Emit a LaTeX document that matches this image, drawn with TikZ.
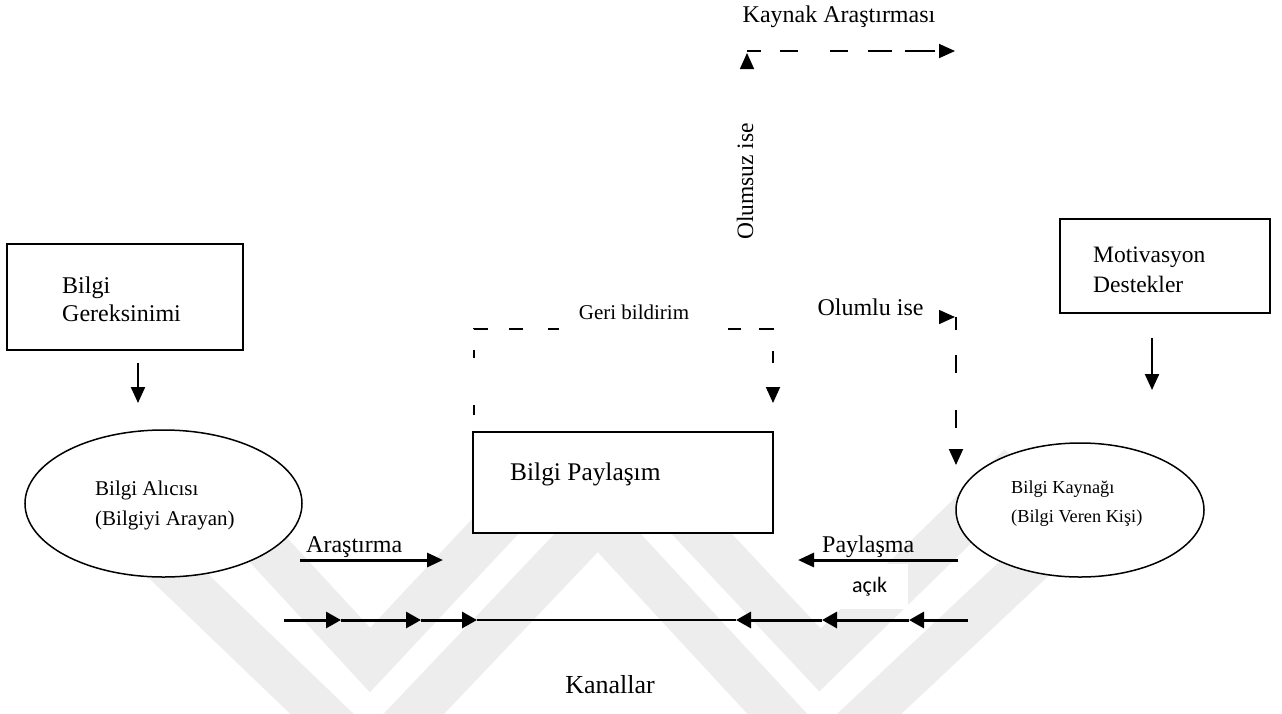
\documentclass[tikz,border=0pt]{standalone}
\usepackage{fontspec}
\setmainfont{Liberation Serif}
\newfontfamily\calfont{Carlito}
\usetikzlibrary{arrows.meta,shapes.geometric}
\definecolor{mark}{RGB}{237,237,237}
\begin{document}
\begin{tikzpicture}[x=1pt,y=-1pt,
  box/.style={draw, fill=white, line width=2pt, inner sep=0pt},
  oval/.style={draw, fill=white, ellipse, line width=1.5pt, inner sep=0pt},
  lbl/.style={inner sep=0pt, align=left},
  head/.style={-{Triangle[length=16pt,width=14pt]}},
  chanhead/.style={-{Triangle[length=15pt,width=16pt]}},
  arr/.style={head, line width=2.2pt},
  flow/.style={head, line width=3pt},
  chan/.style={chanhead, line width=3pt},
  dline/.style={line width=1.8pt},
  band/.style={draw=mark, line width=44pt, line join=miter, line cap=butt}
]
\useasboundingbox (0,0) rectangle (1282,713);

% background emblem stripes
\coordinate (w1) at (120,520);  \coordinate (w2) at (370,760);
\coordinate (w3) at (598,520);  \coordinate (w4) at (820,760);
\coordinate (w5) at (1060,535);
\coordinate (v1) at (250,530);  \coordinate (v2) at (370,660);
\coordinate (v3) at (520,500);  \coordinate (v4) at (670,500);
\coordinate (v5) at (820,660);  \coordinate (v6) at (1020,465);
\draw[band] (w1) -- (w2) -- (w3) -- (w4) -- (w5);
\draw[band] (v1) -- (v2) -- (v3);
\draw[band] (v4) -- (v5) -- (v6);

% boxes
\node[box, minimum width=236pt, minimum height=106pt] (need) at (125,297) {};
\node[lbl, anchor=base west, font=\fontsize{24}{28}\selectfont] (needtxt) at (62,321) {Bilgi\\Gereksinimi};

\node[box, minimum width=210pt, minimum height=94pt] (motiv) at (1165,266) {};
\node[lbl, anchor=base west, font=\fontsize{23.5}{30}\selectfont] (motivtxt) at (1093,292) {Motivasyon\\Destekler};

\node[box, minimum width=300pt, minimum height=101pt] (share) at (623,482.5) {};
\node[lbl, anchor=base west, font=\fontsize{25.4}{30}\selectfont] (sharetxt) at (510,480) {Bilgi Paylaşım};

% ellipses
\node[oval, minimum width=277pt, minimum height=147pt] (recv) at (163.5,503.5) {};
\node[lbl, anchor=base west, font=\fontsize{21}{30}\selectfont] (recvtxt) at (95,525) {Bilgi Alıcısı\\(Bilgiyi Arayan)};

\node[oval, minimum width=248pt, minimum height=134pt] (src) at (1080,510) {};
\node[lbl, anchor=base west, font=\fontsize{18.3}{29}\selectfont] (srctxt) at (1011,522) {Bilgi Kaynağı\\(Bilgi Veren Kişi)};

% free labels
\node[lbl, anchor=base, font=\fontsize{24}{28}\selectfont] (kayn) at (839,22) {Kaynak Araştırması};
\node[lbl, anchor=base, rotate=90, font=\fontsize{23.5}{28}\selectfont] (olsz) at (753,181.5) {Olumsuz ise};
\node[lbl, anchor=base, font=\fontsize{24}{28}\selectfont] (olml) at (870.5,315) {Olumlu ise};
\node[lbl, anchor=base, font=\fontsize{21}{28}\selectfont] (geri) at (634,319) {Geri bildirim};
\node[lbl, anchor=base west, font=\fontsize{24}{28}\selectfont] (aras) at (306,552) {Araştırma};
\node[lbl, anchor=base west, font=\fontsize{24}{28}\selectfont] (payl) at (822,552) {Paylaşma};
\node[lbl, anchor=base west, fill=white, inner xsep=21pt, inner ysep=13pt, font=\calfont\fontsize{22}{26}\selectfont] (acik) at (831,592) {açık};
\node[lbl, anchor=base, font=\fontsize{26}{30}\selectfont] (kanal) at (610,693) {Kanallar};

% connector end points
\coordinate (needA) at (138,363);  \coordinate (needB) at (138,403);
\coordinate (motA)  at (1152,338); \coordinate (motB)  at (1152,390);
\coordinate (arA)   at (300,560);  \coordinate (arB)   at (443,560);
\coordinate (pyA)   at (958,560);  \coordinate (pyB)   at (798,560);
\coordinate (b0) at (284,620); \coordinate (b1) at (341,620);
\coordinate (b2) at (421,620); \coordinate (b3) at (477,620);
\coordinate (b4) at (736,620); \coordinate (b5) at (822,620);
\coordinate (b6) at (909,620); \coordinate (b7) at (968,620);
\coordinate (upA) at (747,68);  \coordinate (upB) at (747,53);
\coordinate (kA)  at (747,51);  \coordinate (kB)  at (955,51);
\coordinate (okA) at (941,317); \coordinate (okB) at (955,317);
\coordinate (vA)  at (956,317); \coordinate (vB)  at (956,465);
\coordinate (gA)  at (474,415); \coordinate (gB)  at (474,329);
\coordinate (gC)  at (773,329); \coordinate (gD)  at (773,403);

% solid arrows
\draw[arr] (needA) -- (needB);
\draw[arr] (motA) -- (motB);
\draw[flow] (arA) -- (arB);
\draw[flow] (pyA) -- (pyB);

% channel line
\draw[chan] (b0) -- (b1);
\draw[chan] (b1) -- (b2);
\draw[chan] (b2) -- (b3);
\draw[line width=1.8pt] (b3) -- (b4);
\draw[chan] (b7) -- (b6);
\draw[chan] (b6) -- (b5);
\draw[chan] (b5) -- (b4);

% dashed paths
\draw[head, line width=1.5pt] (upA) -- (upB);
\draw[dline, head, dash pattern=on 14pt off 19pt on 18pt off 32pt on 18pt off 20pt on 24pt off 13pt on 30pt off 40pt] (kA) -- (kB);
\draw[head, line width=1.5pt] (okA) -- (okB);
\draw[dline, head, dash pattern=on 13pt off 25pt on 18pt off 37pt on 18pt off 60pt] (vA) -- (vB);
\draw[dline, head, dash pattern=on 10pt off 47pt on 8pt off 21pt on 14pt off 21pt on 14pt off 25pt on 11pt off 169pt on 13pt off 18pt on 15pt off 21pt on 12pt off 100pt] (gA) -- (gB) -- (gC) -- (gD);
\end{tikzpicture}
\end{document}
